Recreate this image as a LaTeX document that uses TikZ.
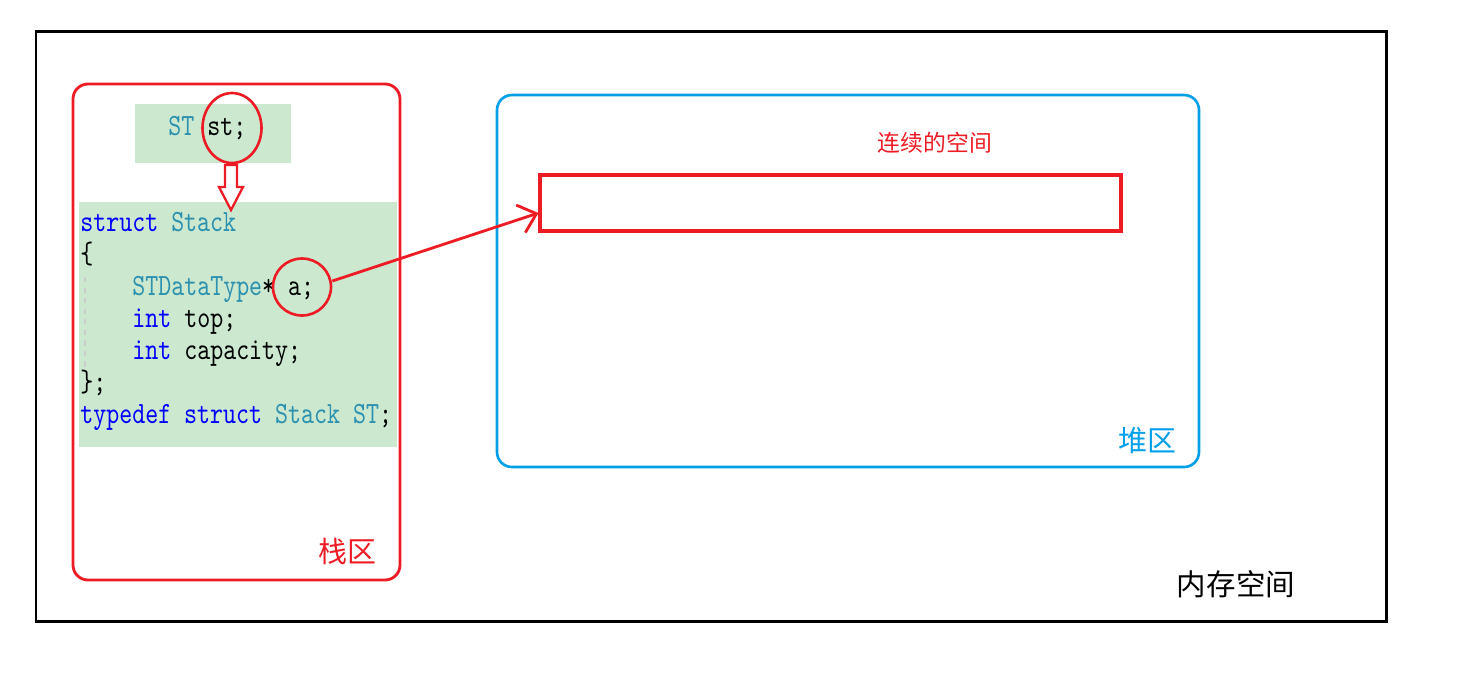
\documentclass[tikz,border=0pt]{standalone}
\usepackage{fontspec}
\newfontfamily\cjk{Noto Sans CJK SC}
\newfontfamily\codefont[FakeStretch=0.8]{lmmono10-regular.otf}
\usetikzlibrary{positioning,arrows.meta,shapes.geometric}
\definecolor{stackred}{RGB}{237,28,36}
\definecolor{heapblue}{RGB}{0,160,233}
\definecolor{codebg}{RGB}{204,232,207}
\definecolor{kw}{RGB}{0,0,255}
\definecolor{ty}{RGB}{43,145,175}

\begin{document}
\begin{tikzpicture}[
    x=0.02cm, y=-0.02cm,
    code/.style={anchor=base west, inner sep=0pt, font=\codefont\fontsize{17.6}{20}\selectfont},
    ring/.style={draw=stackred, ellipse, line width=1.5pt, inner sep=0pt},
    redline/.style={draw=stackred, line width=1.6pt},
    zone/.style={font=\cjk\fontsize{16.5}{18}\selectfont}
]
    \useasboundingbox (0,0) rectangle (1458,674);

    % Memory frame
    \draw[line width=1.7pt] (36,31) rectangle (1386,621);
    \node[font=\cjk\fontsize{16.8}{18}\selectfont] (mem) at (1236,584) {内存空间};

    % Stack area
    \draw[redline, rounded corners=0.3cm] (73,84) rectangle (400,580);
    \node[zone, text=stackred] (stack) at (347,551) {栈区};
    \fill[codebg] (135,104) rectangle (291,163);
    \fill[codebg] (79,202) rectangle (397,447);
    \draw[dashed, gray!40, line width=0.8pt] (85,277) -- (85,367);

    \node[code] (decl) at (168,135) {\textcolor{ty}{ST} st;};
    \node[code] (l1) at (80,231) {\textcolor{kw}{struct} \textcolor{ty}{Stack}};
    \node[code] (l2) at (80,263) {\{};
    \node[code] (l3) at (132,295) {\textcolor{ty}{STDataType}* a;};
    \node[code] (l4) at (132,327) {\textcolor{kw}{int} top;};
    \node[code] (l5) at (132,359) {\textcolor{kw}{int} capacity;};
    \node[code] (l6) at (80,391) {\};};
    \node[code] (l7) at (80,423) {\textcolor{kw}{typedef struct} \textcolor{ty}{Stack ST};};

    \node[ring, minimum width=1.18cm, minimum height=1.4cm] (string) at (232,128) {};
    \node[ring, minimum width=1.16cm, minimum height=1.14cm] (aring) at (302,287) {};

    % hollow arrow st -> struct
    \draw[redline, line width=1.3pt, fill=white, line join=miter]
        (225,165) -- (237,165) -- (237,187) -- (243,187) -- (231,210)
        -- (219,187) -- (225,187) -- cycle;

    % Heap area
    \draw[heapblue, line width=1.5pt, rounded corners=0.3cm] (497,95) rectangle (1199,467);
    \node[zone, text=heapblue] (heap) at (1147,441) {堆区};
    \node[redline, line width=1.8pt, minimum width=11.62cm, minimum height=1.12cm, inner sep=0pt] (seg) at (830.5,203) {};
    \node[font=\cjk\fontsize{13}{14}\selectfont, text=stackred] (seglabel) at (935,143) {连续的空间};

    \draw[redline, -{Straight Barb[length=3.3mm, width=5.8mm]}]
        ([yshift=0.12cm]aring.east) -- ([yshift=-0.2cm]seg.west);
\end{tikzpicture}
\end{document}
